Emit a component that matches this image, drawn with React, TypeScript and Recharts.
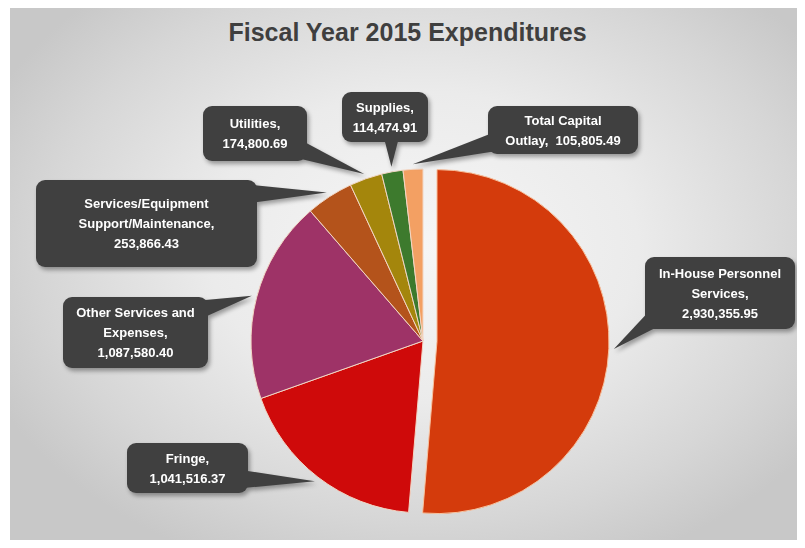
import { PieChart, Pie, Cell } from 'recharts';

// categories (line breaks as in the callouts)
const categories = [
  'In-House Personnel\nServices',
  'Fringe',
  'Other Services and\nExpenses',
  'Services/Equipment\nSupport/Maintenance',
  'Utilities',
  'Supplies',
  'Total Capital\nOutlay',
];

const amounts = [2930355.95, 1041516.37, 1087580.4, 253866.43, 174800.69, 114474.91, 105805.49];

const sliceColors = ['#D43B0C', '#CF0A0A', '#9E3367', '#B4531B', '#A4860C', '#3D7A2D', '#F3A063'];

// callout boxes (chart coords) and whether the value shares the last line
const callouts = [
  { x: 635, y: 249, w: 150, h: 72, inline: false },
  { x: 117, y: 435, w: 121, h: 50, inline: false },
  { x: 53, y: 289, w: 145, h: 71, inline: false },
  { x: 26, y: 172, w: 221, h: 87, inline: false },
  { x: 193, y: 98, w: 104, h: 55, inline: false },
  { x: 332, y: 84, w: 86, h: 50, inline: false },
  { x: 478, y: 98, w: 150, h: 48, inline: true },
];

const W = 795;
const H = 532;
const CX = 413;
const CY = 333;
const R = 172;
const EXPLODE = 14;
const RAD = Math.PI / 180;

const data = categories.map((name, i) => ({ name, value: amounts[i] }));

const total = amounts.reduce((a, b) => a + b, 0);
const firstMid = 90 - (amounts[0] / total) * 180;
const exDx = EXPLODE * Math.cos(firstMid * RAD);
const exDy = -EXPLODE * Math.sin(firstMid * RAD);

const fmt = (v: number) =>
  v.toLocaleString('en-US', { minimumFractionDigits: 2, maximumFractionDigits: 2 });

function labelLines(i: number) {
  const parts = categories[i].split('\n');
  parts[parts.length - 1] += ',';
  if (callouts[i].inline) {
    parts[parts.length - 1] += '  ' + fmt(amounts[i]);
  } else {
    parts.push(fmt(amounts[i]));
  }
  return parts;
}

function Callout(props: any, exploded: boolean) {
  const { cx, cy, midAngle, outerRadius, index } = props;
  if (exploded !== (index === 0)) return null;
  const r = outerRadius + 5;
  const tx = cx + r * Math.cos(-midAngle * RAD);
  const ty = cy + r * Math.sin(-midAngle * RAD);
  const b = callouts[index];
  const ax = Math.min(Math.max(tx, b.x + 14), b.x + b.w - 14);
  const ay = Math.min(Math.max(ty, b.y + 14), b.y + b.h - 14);
  const dx = tx - ax;
  const dy = ty - ay;
  const len = Math.sqrt(dx * dx + dy * dy) || 1;
  const px = (-dy / len) * 10;
  const py = (dx / len) * 10;
  const lines = labelLines(index);
  const lh = 20;
  const y0 = b.y + b.h / 2 - ((lines.length - 1) * lh) / 2 + 4.5;
  return (
    <g key={`callout-${index}`} style={{ filter: 'drop-shadow(2px 3px 2px rgba(0,0,0,0.35))' }}>
      <path d={`M${ax + px},${ay + py} L${tx},${ty} L${ax - px},${ay - py} Z`} fill="#404040" />
      <rect x={b.x} y={b.y} width={b.w} height={b.h} rx={9} ry={9} fill="#404040" />
      <text
        x={b.x + b.w / 2}
        y={y0}
        textAnchor="middle"
        fill="#ffffff"
        fontFamily="'Liberation Sans', Arial, sans-serif"
        fontWeight="bold"
        fontSize={13}
        style={{ whiteSpace: 'pre' }}
      >
        {lines.map((t, k) => (
          <tspan key={k} x={b.x + b.w / 2} y={y0 + k * lh}>
            {t}
          </tspan>
        ))}
      </text>
    </g>
  );
}

export default function App() {
  return (
    <div
      style={{
        position: 'relative',
        marginLeft: 2,
        width: W,
        height: H,
        background:
          'radial-gradient(ellipse 60% 65% at 52% 45%, #f6f6f6 0%, #ebebeb 45%, #d6d6d6 80%, #c8c8c8 100%)',
      }}
    >
      <div
        style={{
          position: 'absolute',
          left: 0,
          top: 10,
          width: W,
          textAlign: 'center',
          fontFamily: "'Liberation Sans', Arial, sans-serif",
          fontWeight: 'bold',
          fontSize: 25,
          color: '#3f3f3f',
        }}
      >
        Fiscal Year 2015 Expenditures
      </div>
      <PieChart
        width={W}
        height={H}
        margin={{ top: 0, right: 0, bottom: 0, left: 0 }}
        style={{ position: 'absolute', left: 0, top: 0 }}
      >
        <Pie
          data={data}
          dataKey="value"
          nameKey="name"
          cx={CX}
          cy={CY}
          outerRadius={R}
          startAngle={90}
          endAngle={-270}
          stroke="#f7d2b8"
          strokeWidth={1}
          labelLine={false}
          label={(p: any) => Callout(p, false)}
          isAnimationActive={false}
        >
          {data.map((d, i) => (
            <Cell key={d.name} fill={i === 0 ? 'none' : sliceColors[i]} stroke={i === 0 ? 'none' : '#f2d6c4'} />
          ))}
        </Pie>
        <Pie
          data={data}
          dataKey="value"
          nameKey="name"
          cx={CX + exDx}
          cy={CY + exDy}
          outerRadius={R}
          startAngle={90}
          endAngle={-270}
          labelLine={false}
          label={(p: any) => Callout(p, true)}
          isAnimationActive={false}
        >
          {data.map((d, i) => (
            <Cell key={d.name} fill={i === 0 ? sliceColors[0] : 'none'} stroke={i === 0 ? '#f7c3a0' : 'none'} />
          ))}
        </Pie>
      </PieChart>
    </div>
  );
}
